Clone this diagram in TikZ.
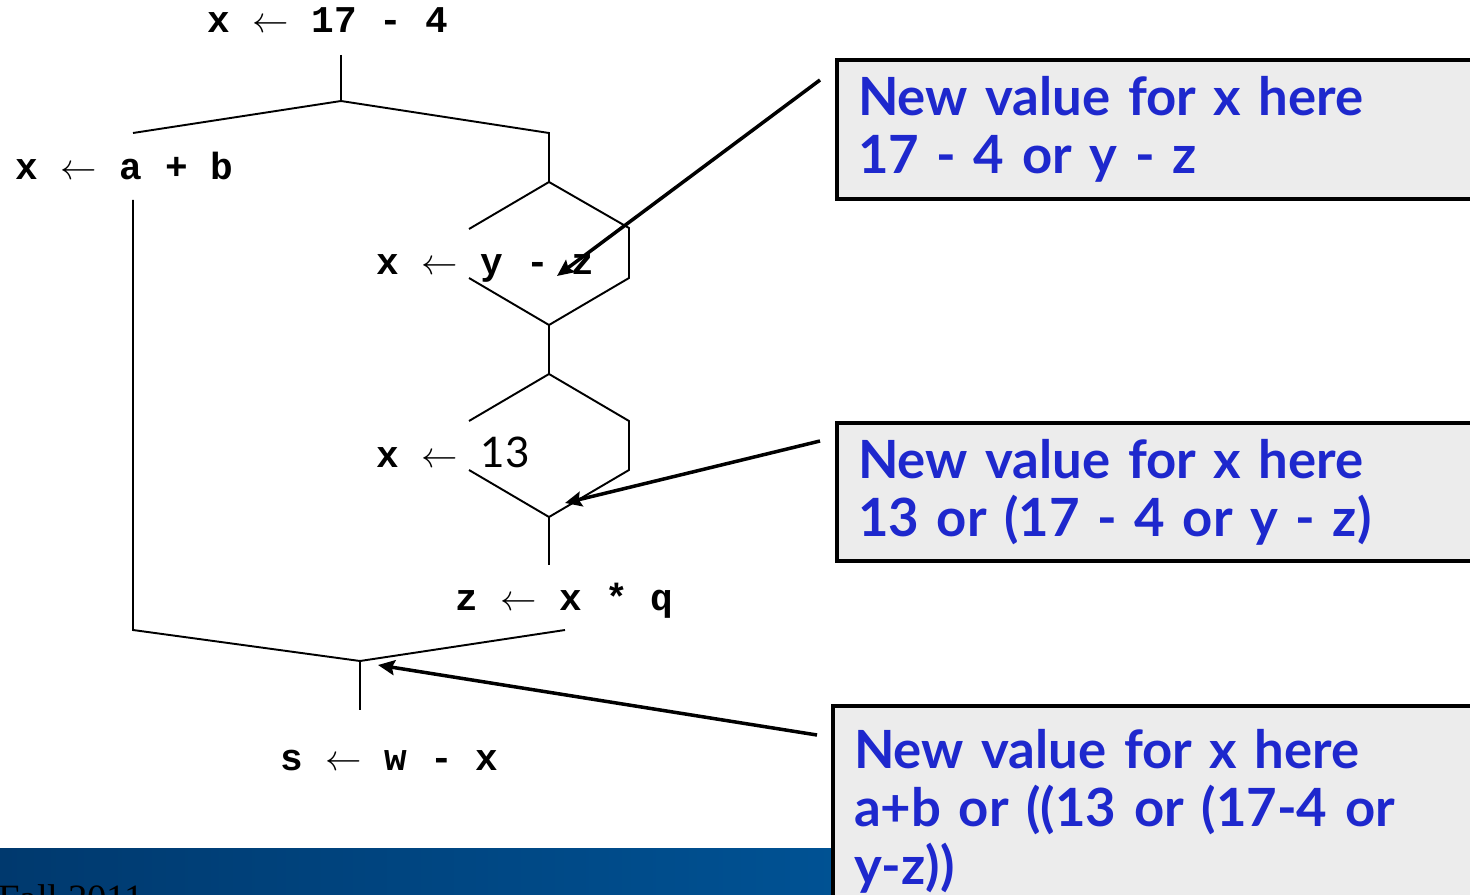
\documentclass[tikz,border=0pt]{standalone}
\usepackage{fontspec}
\setmonofont{Liberation Mono}
\newfontfamily\notefont{Lato}
\newfontfamily\slidefont{Liberation Serif}
\usetikzlibrary{arrows.meta}

\definecolor{noteblue}{RGB}{30,40,205}
\definecolor{notegray}{RGB}{236,236,236}
\definecolor{barleft}{RGB}{0,57,110}
\definecolor{barright}{RGB}{0,82,148}

\newcommand{\codefont}{\ttfamily\bfseries\fontsize{21.5}{26}\selectfont}
\newcommand{\calloutfont}{\notefont\bfseries\fontsize{30}{33}\selectfont}

\begin{document}
\begin{tikzpicture}[
    x=0.02cm, y=-0.02cm,
    >={Stealth[length=9.5pt,width=8.5pt,inset=1.5pt]},
    %% ── styles ───────────────────────────────────────────────
    code/.style    = {anchor=base west, inner sep=0pt, font=\codefont},
    cfg/.style     = {line width=1.1pt},
    note/.style    = {draw, line width=2.3pt, fill=notegray, anchor=north west,
                      align=left, text=noteblue, font=\calloutfont,
                      text width=14cm, inner xsep=0.42cm},
    callout/.style = {->, line width=2pt}
]
\useasboundingbox (0,0) rectangle (1470,895);
\clip (0,0) rectangle (1470,895);

%% ── footer bar ───────────────────────────────────────────────
\fill[left color=barleft, right color=barright] (0,848) rectangle (840,900);
\node[anchor=base west, inner sep=0pt, font=\slidefont\fontsize{22}{26}\selectfont]
    (term) at (-2,911) {Fall 2011};

%% ── statements ───────────────────────────────────────────────
\node[code] (d1) at (207,33)  {x $\leftarrow$ 17 - 4};
\node[code] (d2) at (15,180)  {x $\leftarrow$ a + b};
\node[code] (d3) at (376,275) {x $\leftarrow$ y - z};
\node[code] (d4) at (376,467) {x $\leftarrow$ {\notefont\mdseries\fontsize{24}{26}\selectfont 13}};
\node[code] (u1) at (455,610) {z $\leftarrow$ x * q};
\node[code] (u2) at (280,770) {s $\leftarrow$ w - x};

%% ── control flow ─────────────────────────────────────────────
\coordinate (fork) at (341,101);
\coordinate (join) at (360,661);
\draw[cfg] (341,55) -- (fork);
\draw[cfg] (133,133) -- (fork) -- (549,133) -- (549,182);
\draw[cfg] (133,200) -- (133,630) -- (join) -- (565,630);
\draw[cfg] (join) -- (360,710);

\draw[cfg] (469,229) -- (549,182) -- (629,228) -- (629,278) -- (549,325) -- (469,278);
\draw[cfg] (549,325) -- (549,374);
\draw[cfg] (469,421) -- (549,374) -- (629,421) -- (629,470) -- (549,517) -- (469,470);
\draw[cfg] (549,517) -- (549,565);

%% ── callout boxes ────────────────────────────────────────────
\node[note, minimum height=2.78cm] (n1) at (835,58)
    {New value for x here\\17 - 4 or y - z};
\node[note, minimum height=2.76cm] (n2) at (835,421)
    {New value for x here\\13 or (17 - 4 or y - z)};
\node[note, minimum height=4.2cm] (n3) at (831,704)
    {New value for x here\\a+b or ((13 or (17-4 or\\y-z))};

%% ── callout arrows ───────────────────────────────────────────
\coordinate (h1) at (557,276);
\coordinate (h2) at (565,503);
\coordinate (h3) at (378,665);
\draw[callout] (820,80)  -- (h1);
\draw[callout] (820,441) -- (h2);
\draw[callout] (817,735) -- (h3);

\end{tikzpicture}
\end{document}
